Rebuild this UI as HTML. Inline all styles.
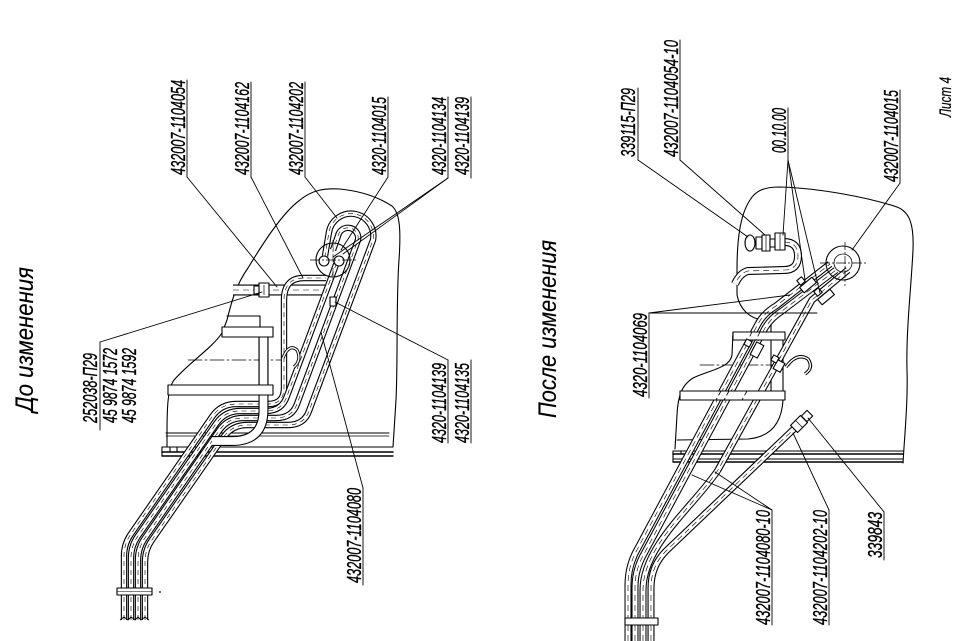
<!DOCTYPE html>
<html><head><meta charset="utf-8"><title>Лист 4</title>
<style>html,body{margin:0;padding:0;background:#fff;}svg{display:block;}</style></head>
<body>
<svg width="970" height="641" viewBox="0 0 970 641" xmlns="http://www.w3.org/2000/svg" xmlns:xlink="http://www.w3.org/1999/xlink">
<rect x="0" y="0" width="970" height="641" fill="#fff"/>
<defs>
  <path id="L1" d="M 124,620 L 124,556 Q 124,544 130.8,534.2 L 212.4,416.3 Q 221,404 236,404 L 268,404 Q 284,404 284,388 L 284,300 Q 284,278 304,278 L 326,278"/>
  <path id="L2" d="M 131,620 L 131,558 Q 131,546 137.8,536.2 L 216.4,423.3 Q 225,411 240,411 L 266,411 Q 282,411 287,396 L 337,262"/>
  <path id="L4" d="M 138,620 L 138,560 Q 138,548 144.8,538.2 L 219.4,430.3 Q 228,418 243,418 L 276,418 Q 292,418 297,404 L 358,240 A 10,10 0 0 0 338,236 L 333,250"/>
  <path id="L3" d="M 145,620 L 145,562 Q 145,550 151.8,540.2 L 223.4,437.3 Q 232,425 247,425 L 288,425 Q 304,425 309,411 L 373,240 A 22,22 0 0 0 329,232 L 325,256"/>
  <path id="LBR" d="M 233,290 L 326,290"/>
  <path id="LBAND" d="M 263.5,337 L 263.5,410 Q 263.5,441 232,441 L 212,441"/>
  <path id="RA1" d="M 628,641 L 628,585 Q 628,565 638,548 L 758,324 Q 764,313 776,306 L 830,264"/>
  <path id="RA2" d="M 635,641 L 635,587 Q 635,569 645,552 L 765,328 Q 771,318 782,311 L 836,270"/>
  <path id="RB" d="M 643,641 L 643,590 C 643,545 695,505 718,470 L 812,300 L 848,270"/>
  <path id="RC" d="M 651,641 L 651,588 Q 651,566 666,551 L 795,428"/>
  <path id="RHOOK" d="M 784,242 Q 798,242 798,256 Q 798,270 784,270 L 748,271 Q 740,273 735,284"/>
</defs>

<!-- ===================== LEFT DRAWING ===================== -->
<g fill="none" stroke="#000" stroke-width="1.1" stroke-linejoin="round" stroke-linecap="round">
  <path d="M 167,447 L 167,433 C 167,405 168,388 174,380 C 190,362 212,348 222,333 L 227,320 C 232,300 236,285 248,268 C 262,245 282,213 300,200 C 312,190 325,188 340,189 C 360,191 378,197 392,206 C 400,213 401,230 399,260 C 396,300 398,360 396,400 L 393,447"/>
  <path d="M 227,316 L 260,316 L 260,327"/>
  <line x1="166" y1="433" x2="389" y2="433"/>
  <line x1="166" y1="436" x2="389" y2="436" stroke-width="0.7"/>
  <line x1="162" y1="447" x2="393" y2="447"/>
  <line x1="162" y1="452" x2="393" y2="452" stroke-width="1.6"/>
  <line x1="162" y1="456" x2="393" y2="456" stroke-width="1.4"/>
  <line x1="162" y1="447" x2="162" y2="456"/>
  <line x1="170" y1="447" x2="170" y2="452"/>
  <line x1="177" y1="447" x2="177" y2="452"/>
  <line x1="188" y1="360" x2="286" y2="360" stroke-width="0.8" stroke-dasharray="14 3 2 3"/>
</g>

<g fill="none" stroke-linejoin="round">
  <use href="#LBR" xlink:href="#LBR" stroke="#000" stroke-width="11"/>
  <use href="#LBR" xlink:href="#LBR" stroke="#fff" stroke-width="8.8"/>
  <use href="#LBR" xlink:href="#LBR" stroke="#000" stroke-width="0.6" stroke-dasharray="6 4"/>

  <use href="#L1" xlink:href="#L1" stroke="#000" stroke-width="6.4"/>
  <use href="#L1" xlink:href="#L1" stroke="#fff" stroke-width="4.2"/>
  <use href="#L2" xlink:href="#L2" stroke="#000" stroke-width="6.4"/>
  <use href="#L2" xlink:href="#L2" stroke="#fff" stroke-width="4.2"/>
  <use href="#L4" xlink:href="#L4" stroke="#000" stroke-width="6.4"/>
  <use href="#L4" xlink:href="#L4" stroke="#fff" stroke-width="4.2"/>
  <use href="#L3" xlink:href="#L3" stroke="#000" stroke-width="6.4"/>
  <use href="#L3" xlink:href="#L3" stroke="#fff" stroke-width="4.2"/>
  <g stroke="#000" stroke-width="0.6" stroke-dasharray="5 4">
    <use href="#L1" xlink:href="#L1"/><use href="#L2" xlink:href="#L2"/>
    <use href="#L3" xlink:href="#L3"/><use href="#L4" xlink:href="#L4"/>
  </g>
  <use href="#LBAND" xlink:href="#LBAND" stroke="#000" stroke-width="10"/>
  <use href="#LBAND" xlink:href="#LBAND" stroke="#fff" stroke-width="7.8"/>
</g>

<g stroke="#000" stroke-width="1.1" fill="#fff" stroke-linejoin="round">
  <line x1="259" y1="337" x2="259" y2="385" fill="none"/>
  <line x1="268" y1="337" x2="268" y2="385" fill="none"/>
  <rect x="222" y="327" width="51" height="10"/>
  <rect x="168" y="385" width="105" height="10"/>
  <rect x="117" y="588" width="35" height="7"/>
  <line x1="117" y1="591.5" x2="152" y2="591.5" stroke-width="0.6"/>
  <rect x="259" y="283" width="10" height="14"/>
  <rect x="254" y="286" width="5" height="8"/>
  <line x1="264" y1="285" x2="264" y2="295" stroke-width="0.7"/>
  <rect x="330" y="297" width="6" height="9"/>
  <path d="M 283,358 Q 289,343 297,350 Q 302,360 294,367" fill="none" stroke-width="3.2"/>
  <path d="M 283,358 Q 289,343 297,350 Q 302,360 294,367" fill="none" stroke="#fff" stroke-width="1.4"/>
  <circle cx="333" cy="260" r="17" fill="none"/>
  <circle cx="324" cy="261" r="5"/>
  <circle cx="339" cy="261" r="5"/>
  <line x1="310" y1="260" x2="356" y2="260" fill="none" stroke-width="0.8" stroke-dasharray="10 2 2 2"/>
  <line x1="333" y1="240" x2="333" y2="280" fill="none" stroke-width="0.6" stroke-dasharray="8 2 2 2"/>
  <path d="M 120,620 L 124,617 L 128,620 L 131,617 L 135,620 L 138,617 L 141,620 L 145,617 L 149,620" fill="none" stroke-width="0.9"/>
  <circle cx="160" cy="592" r="0.9" fill="#000" stroke="none"/>
</g>

<!-- ===================== RIGHT DRAWING ===================== -->
<g fill="none" stroke="#000" stroke-width="1.1" stroke-linejoin="round" stroke-linecap="round">
  <path d="M 675,449 L 677,415 C 678,395 682,385 693,378 C 710,370 730,368 732,355 L 733,332"/>
  <path d="M 762,320 C 750,318 740,310 737,295 L 737,270 C 737,240 740,215 750,200 C 756,190 765,187 780,187 C 820,188 870,198 897,207 C 910,212 914,225 913,250 C 911,290 906,330 907,370 C 908,400 905,430 903,463"/>
  <line x1="673" y1="451" x2="903" y2="451"/>
  <line x1="673" y1="454" x2="903" y2="454" stroke-width="1.5"/>
  <line x1="673" y1="459" x2="903" y2="459"/>
  <line x1="673" y1="462" x2="903" y2="462" stroke-width="1.4"/>
  <line x1="673" y1="451" x2="673" y2="462"/>
  <line x1="681" y1="451" x2="681" y2="454"/>
  <line x1="689" y1="451" x2="689" y2="454"/>
  <line x1="771" y1="320" x2="771" y2="391"/>
  <path d="M 783,340 L 783,400 Q 781,436 748,439 L 677,440"/>
  <line x1="700" y1="365" x2="790" y2="365" stroke-width="0.8" stroke-dasharray="14 3 2 3"/>
</g>

<g fill="none" stroke-linejoin="round">
  <use href="#RHOOK" xlink:href="#RHOOK" stroke="#000" stroke-width="8"/>
  <use href="#RHOOK" xlink:href="#RHOOK" stroke="#fff" stroke-width="5.8"/>
  <use href="#RHOOK" xlink:href="#RHOOK" stroke="#000" stroke-width="0.6" stroke-dasharray="6 4"/>

  <use href="#RC" xlink:href="#RC" stroke="#000" stroke-width="7"/>
  <use href="#RC" xlink:href="#RC" stroke="#fff" stroke-width="4.8"/>
  <use href="#RB" xlink:href="#RB" stroke="#000" stroke-width="7"/>
  <use href="#RB" xlink:href="#RB" stroke="#fff" stroke-width="4.9"/>
  <use href="#RA2" xlink:href="#RA2" stroke="#000" stroke-width="7"/>
  <use href="#RA2" xlink:href="#RA2" stroke="#fff" stroke-width="4.9"/>
  <use href="#RA1" xlink:href="#RA1" stroke="#000" stroke-width="7"/>
  <use href="#RA1" xlink:href="#RA1" stroke="#fff" stroke-width="4.9"/>
  <g stroke="#000" stroke-width="0.6" stroke-dasharray="6 4">
    <use href="#RA1" xlink:href="#RA1"/><use href="#RA2" xlink:href="#RA2"/>
    <use href="#RB" xlink:href="#RB"/><use href="#RC" xlink:href="#RC"/>
  </g>
</g>

<g stroke="#000" stroke-width="1.1" fill="#fff" stroke-linejoin="round">
  <rect x="733" y="332" width="52" height="8"/>
  <rect x="680" y="391" width="105" height="9"/>
  <g fill="none" stroke-width="0.8" stroke-dasharray="5 3">
    <line x1="752" y1="332" x2="748" y2="340"/>
    <line x1="760" y1="332" x2="756" y2="340"/>
    <line x1="721" y1="391" x2="716" y2="400"/>
    <line x1="729" y1="391" x2="724" y2="400"/>
    <line x1="747" y1="391" x2="742" y2="400"/>
  </g>
  <rect x="625" y="618" width="33" height="7"/>
  <ellipse cx="750" cy="243" rx="5" ry="8"/>
  <rect x="756" y="237" width="6" height="12"/>
  <rect x="762" y="235" width="8" height="16"/>
  <rect x="770" y="239" width="5" height="8"/>
  <rect x="775" y="233" width="10" height="17"/>
  <line x1="780" y1="233" x2="780" y2="250" stroke-width="0.7"/>
  <line x1="766" y1="235" x2="766" y2="251" stroke-width="0.7"/>
  <circle cx="843" cy="263" r="17" fill="none"/>
  <circle cx="843" cy="263" r="9" fill="none" stroke-width="0.8"/>
  <line x1="820" y1="263" x2="866" y2="263" fill="none" stroke-width="0.8" stroke-dasharray="10 2 2 2"/>
  <line x1="845" y1="242" x2="845" y2="286" fill="none" stroke-width="0.7" stroke-dasharray="8 2 2 2"/>
  <rect x="-8" y="-3.5" width="16" height="7" transform="translate(808,285) rotate(-40)"/>
  <rect x="-3" y="-3" width="6" height="6" transform="translate(801,281) rotate(-40)"/>
  <rect x="-8" y="-3.5" width="16" height="7" transform="translate(826,297) rotate(-40)"/>
  <rect x="-3" y="-3" width="6" height="6" transform="translate(818,292) rotate(-40)"/>
  <rect x="-4" y="-7" width="8" height="14" transform="translate(757,350) rotate(28)"/>
  <rect x="-3" y="-3" width="6" height="6" transform="translate(748,343) rotate(28)"/>
  <rect x="-4" y="-5" width="8" height="10" transform="translate(779,366) rotate(28)"/>
  <rect x="-3" y="-3" width="6" height="6" transform="translate(775,359) rotate(28)"/>
  <path d="M 786,367 Q 797,352 808,359 Q 814,368 805,374" fill="none" stroke-width="3.4"/>
  <path d="M 786,367 Q 797,352 808,359 Q 814,368 805,374" fill="none" stroke="#fff" stroke-width="1.4"/>
  <rect x="-7" y="-5" width="14" height="10" transform="translate(799,424) rotate(-45)"/>
  <rect x="-4" y="-4" width="8" height="8" transform="translate(807,416) rotate(-45)"/>
  <line x1="795" y1="420" x2="803" y2="428" stroke-width="0.7"/>
</g>

<!-- ===================== LEADER LINES ===================== -->
<g stroke="#000" stroke-width="0.9" fill="none" stroke-linecap="round">
  <line x1="187" y1="80" x2="187" y2="177"/>
  <line x1="251" y1="82" x2="251" y2="177"/>
  <line x1="305" y1="82" x2="305" y2="177"/>
  <line x1="388" y1="97" x2="388" y2="177"/>
  <line x1="448" y1="97" x2="448" y2="178"/>
  <line x1="471" y1="97" x2="471" y2="178"/>
  <line x1="187" y1="177" x2="277" y2="287"/>
  <line x1="251" y1="177" x2="303" y2="278"/>
  <line x1="305" y1="177" x2="337" y2="218"/>
  <line x1="388" y1="177" x2="341" y2="250"/>
  <line x1="448" y1="178" x2="333" y2="257"/>
  <line x1="448" y1="178" x2="343" y2="254"/>
  <line x1="100" y1="342" x2="100" y2="430"/>
  <line x1="100" y1="342" x2="262" y2="292"/>
  <line x1="363" y1="488" x2="363" y2="585"/>
  <line x1="363" y1="488" x2="321" y2="332"/>
  <line x1="448" y1="360" x2="448" y2="443"/>
  <line x1="471" y1="360" x2="471" y2="443"/>
  <line x1="448" y1="360" x2="335" y2="302"/>

  <line x1="638" y1="88" x2="638" y2="160"/>
  <line x1="638" y1="160" x2="748" y2="237"/>
  <line x1="680" y1="40" x2="680" y2="160"/>
  <line x1="680" y1="160" x2="765" y2="235"/>
  <line x1="788" y1="108" x2="788" y2="160"/>
  <line x1="788" y1="160" x2="783" y2="235"/>
  <line x1="788" y1="160" x2="805" y2="280"/>
  <line x1="788" y1="160" x2="820" y2="293"/>
  <line x1="900" y1="90" x2="900" y2="183"/>
  <line x1="900" y1="183" x2="852" y2="250"/>
  <line x1="649" y1="313" x2="649" y2="398"/>
  <line x1="649" y1="313" x2="790" y2="295"/>
  <line x1="649" y1="313" x2="817" y2="313"/>
  <line x1="772" y1="510" x2="772" y2="625"/>
  <line x1="772" y1="510" x2="692" y2="475"/>
  <line x1="772" y1="510" x2="715" y2="472"/>
  <line x1="829" y1="510" x2="829" y2="625"/>
  <line x1="829" y1="510" x2="793" y2="433"/>
  <line x1="884" y1="512" x2="884" y2="560"/>
  <line x1="884" y1="512" x2="808" y2="418"/>
</g>

<!-- ===================== TEXT ===================== -->
<g font-family="'Liberation Sans', 'DejaVu Sans', sans-serif" font-style="italic" font-size="20" fill="#000" stroke="#000" stroke-width="0.35">
  <text transform="translate(185,175) rotate(-90)" textLength="95" lengthAdjust="spacingAndGlyphs">432007-1104054</text>
  <text transform="translate(249,175) rotate(-90)" textLength="93" lengthAdjust="spacingAndGlyphs">432007-1104162</text>
  <text transform="translate(303,175) rotate(-90)" textLength="93" lengthAdjust="spacingAndGlyphs">432007-1104202</text>
  <text transform="translate(386,175) rotate(-90)" textLength="78" lengthAdjust="spacingAndGlyphs">4320-1104015</text>
  <text transform="translate(446,175) rotate(-90)" textLength="78" lengthAdjust="spacingAndGlyphs">4320-1104134</text>
  <text transform="translate(469,175) rotate(-90)" textLength="78" lengthAdjust="spacingAndGlyphs">4320-1104139</text>
  <text transform="translate(97,423) rotate(-90)" textLength="70" lengthAdjust="spacingAndGlyphs">252038-П29</text>
  <text transform="translate(117,423) rotate(-90)" textLength="75" lengthAdjust="spacingAndGlyphs">45 9874 1572</text>
  <text transform="translate(136,423) rotate(-90)" textLength="75" lengthAdjust="spacingAndGlyphs">45 9874 1592</text>
  <text transform="translate(361,583) rotate(-90)" textLength="95" lengthAdjust="spacingAndGlyphs">432007-1104080</text>
  <text transform="translate(446,443) rotate(-90)" textLength="80" lengthAdjust="spacingAndGlyphs">4320-1104139</text>
  <text transform="translate(469,443) rotate(-90)" textLength="80" lengthAdjust="spacingAndGlyphs">4320-1104135</text>
  <text transform="translate(635,157) rotate(-90)" textLength="69" lengthAdjust="spacingAndGlyphs">339115-П29</text>
  <text transform="translate(678,157) rotate(-90)" textLength="117" lengthAdjust="spacingAndGlyphs">432007-1104054-10</text>
  <text transform="translate(786,153) rotate(-90)" textLength="45" lengthAdjust="spacingAndGlyphs">00.10.00</text>
  <text transform="translate(898,182) rotate(-90)" textLength="92" lengthAdjust="spacingAndGlyphs">432007-1104015</text>
  <text transform="translate(951,117) rotate(-90)" textLength="40" lengthAdjust="spacingAndGlyphs" font-size="17" stroke-width="0.2">Лист 4</text>
  <text transform="translate(647,397) rotate(-90)" textLength="84" lengthAdjust="spacingAndGlyphs">4320-1104069</text>
  <text transform="translate(770,625) rotate(-90)" textLength="115" lengthAdjust="spacingAndGlyphs">432007-1104080-10</text>
  <text transform="translate(827,625) rotate(-90)" textLength="115" lengthAdjust="spacingAndGlyphs">432007-1104202-10</text>
  <text transform="translate(882,558) rotate(-90)" textLength="46" lengthAdjust="spacingAndGlyphs">339843</text>
  <text transform="translate(33,412) rotate(-90)" font-size="25" stroke-width="0.15" textLength="145" lengthAdjust="spacingAndGlyphs">До изменения</text>
  <text transform="translate(556,418) rotate(-90)" font-size="25" stroke-width="0.15" textLength="178" lengthAdjust="spacingAndGlyphs">После изменения</text>
</g>
</svg>
</body></html>
